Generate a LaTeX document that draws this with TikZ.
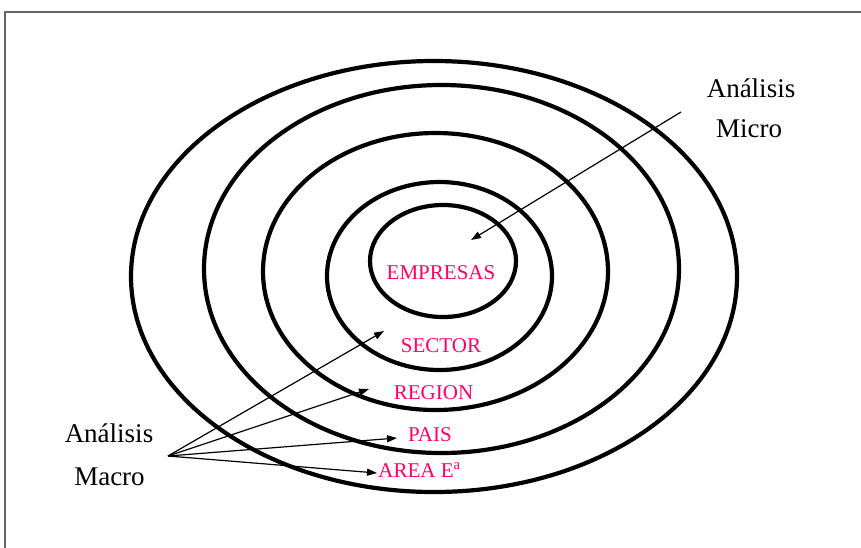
\documentclass[tikz,border=0pt]{standalone}
\usepackage{fontspec}
\setmainfont{Liberation Serif}
\usetikzlibrary{arrows.meta}
\definecolor{labelpink}{RGB}{255,0,102}
\definecolor{framegray}{RGB}{100,100,100}
\tikzset{
  ring/.style={draw=black, line width=4.2pt},
  lbl/.style={text=labelpink, font=\fontsize{21}{24}\selectfont, inner sep=0pt, anchor=base},
  big/.style={text=black, font=\fontsize{27}{30}\selectfont, inner sep=0pt, anchor=base},
  ptr/.style={draw=black, line width=1.2pt, -{Triangle[length=10pt,width=7pt]}},
}
\begin{document}
\begin{tikzpicture}[x=1pt,y=-1pt]
\useasboundingbox (0,0) rectangle (861,547);
% frame (right and bottom sides lie outside the picture)
\draw[framegray, line width=1.6pt] (5,560) -- (5,12) -- (875,12);
% rings
\draw[ring] (434,276.5) ellipse [x radius=303, y radius=215.5];
\draw[ring] (441.5,269) ellipse [x radius=237.5, y radius=184];
\draw[ring] (435.5,271.5) ellipse [x radius=172.5, y radius=138.5];
\draw[ring] (439.5,276) ellipse [x radius=112.5, y radius=94];
\draw[ring] (443,261) ellipse [x radius=73, y radius=56];
% labels
\node[lbl] (emp) at (441,279) {EMPRESAS};
\node[lbl] (sec) at (441,352) {SECTOR};
\node[lbl] (reg) at (433.5,399) {REGION};
\node[lbl] (pais) at (430,441) {PAIS};
\node[lbl] (area) at (419.5,477) {AREA E\textsuperscript{a}};
\node[big] (mi1) at (751,97) {Análisis};
\node[big] (mi2) at (749,137) {Micro};
\node[big] (ma1) at (109,442) {Análisis};
\node[big] (ma2) at (109.5,485) {Macro};
% arrow ends
\coordinate (microstart) at (681,112);
\coordinate (microend) at (471,240);
\coordinate (macro) at (168,456);
\coordinate (tsec) at (384,331);
\coordinate (treg) at (369,389);
\coordinate (tpais) at (397,438);
\coordinate (tarea) at (377,473);
\draw[ptr] (microstart) -- (microend);
\draw[ptr] (macro) -- (tsec);
\draw[ptr] (macro) -- (treg);
\draw[ptr] (macro) -- (tpais);
\draw[ptr] (macro) -- (tarea);
\end{tikzpicture}
\end{document}
